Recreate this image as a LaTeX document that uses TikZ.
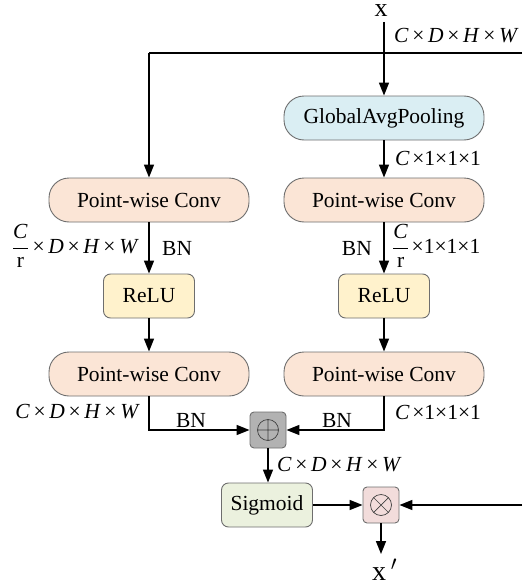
\documentclass[tikz,border=0pt]{standalone}
\usepackage{fontspec}
\setmainfont{Liberation Serif}
\usetikzlibrary{arrows.meta}
\newcommand\tms{\hspace{0.17em}×\hspace{0.17em}}
\newcommand\dhw{\textit{D}\tms\textit{H}\tms\textit{W}}
\newcommand\cdhw{\textit{C}\tms\dhw}
\newcommand\cone{\textit{C}\hspace{0.12em}×1×1×1}
\newcommand\crfrac{$\displaystyle\frac{\mbox{\textit{C}}}{\mbox{r}}$}
\definecolor{gapfill}{RGB}{218,238,243}
\definecolor{pwcfill}{RGB}{251,229,214}
\definecolor{relufill}{RGB}{255,242,204}
\definecolor{sigfill}{RGB}{235,241,222}
\definecolor{addfill}{RGB}{178,178,178}
\definecolor{mulfill}{RGB}{242,220,219}
\definecolor{edgegray}{RGB}{110,110,110}
\begin{document}
\begin{tikzpicture}[x=1pt,y=-1pt,
  every node/.style={font=\fontsize{21.5}{25}\selectfont},
  pill/.style={draw=edgegray,line width=0.9pt,rounded corners=20pt,minimum width=200pt,minimum height=44pt,inner sep=0pt},
  sbox/.style={draw=edgegray,line width=0.9pt,rounded corners=7pt,minimum width=91pt,minimum height=44pt,inner sep=0pt},
  opbox/.style={draw=edgegray,line width=0.9pt,rounded corners=4pt,minimum size=36pt,inner sep=0pt},
  lbl/.style={inner sep=0pt},
  biglbl/.style={inner sep=0pt,font=\fontsize{26}{30}\selectfont},
  conn/.style={line width=1.6pt,-{Triangle[length=13pt,width=10pt]}},
  plain/.style={line width=1.6pt}]
\useasboundingbox (0,0) rectangle (522,586);
% nodes
\node[biglbl,anchor=base] (x) at (381,17) {x};
\node[pill,fill=gapfill] (gap) at (384,118) {GlobalAvgPooling};
\node[pill,fill=pwcfill] (pl1) at (149,200) {Point-wise Conv};
\node[pill,fill=pwcfill] (pr1) at (384,200) {Point-wise Conv};
\node[sbox,fill=relufill] (rl) at (149,296) {ReLU};
\node[sbox,fill=relufill] (rr) at (384,296) {ReLU};
\node[pill,fill=pwcfill] (pl2) at (149,374) {Point-wise Conv};
\node[pill,fill=pwcfill] (pr2) at (384,374) {Point-wise Conv};
\node[opbox,fill=addfill] (add) at (268,430) {};
\node[sbox,fill=sigfill] (sig) at (267,505) {Sigmoid};
\node[opbox,fill=mulfill] (mul) at (381,505) {};
\node[biglbl,anchor=base west,font=\fontsize{28}{32}\selectfont] (xo) at (372,580) {x\,$'$};
% symbols
\draw[line width=0.7pt,draw=black!75] (add.center) circle (10.5pt) (add.center) ++(-10.5,0) -- ++(21,0) (add.center) ++(0,-10.5) -- ++(0,21);
\draw[line width=0.7pt,draw=black!75] (mul.center) circle (10.5pt) (mul.center) ++(-7.42,-7.42) -- ++(14.85,14.85) (mul.center) ++(-7.42,7.42) -- ++(14.85,-14.85);
% coordinates
\coordinate (xs) at (384,22);
\coordinate (topR) at (522,53);
\coordinate (topL) at (149,53);
\coordinate (botR) at (522,505);
\coordinate (jl) at (149,430);
\coordinate (jr) at (384,430);
\coordinate (xe) at (381,554);
% connectors
\draw[conn] (xs) -- (gap.north);
\draw[plain] (topR) -- (topL);
\draw[conn] (topL) -- (pl1.north);
\draw[conn] (gap.south) -- (pr1.north);
\draw[conn] (pl1.south) -- (rl.north);
\draw[conn] (pr1.south) -- (rr.north);
\draw[conn] (rl.south) -- (pl2.north);
\draw[conn] (rr.south) -- (pr2.north);
\draw[conn] (pl2.south) -- (jl) -- (add.west);
\draw[conn] (pr2.south) -- (jr) -- (add.east);
\draw[conn] (add.south) -- (sig.north -| add.south);
\draw[conn] (sig.east) -- (mul.west);
\draw[conn] (botR) -- (mul.east);
\draw[conn] (mul.south) -- (xe);
% labels
\node[lbl,anchor=east] at (139,246) {\crfrac\tms\dhw};
\node[lbl,anchor=west] at (394,36) {\cdhw};
\node[lbl,anchor=west] at (395,158) {\cone};
\node[lbl,anchor=west] at (162,248) {BN};
\node[lbl,anchor=east] at (372,248) {BN};
\node[lbl,anchor=west] at (392,246) {\crfrac\hspace{0.12em}×1×1×1};
\node[lbl,anchor=east] at (140,412) {\cdhw};
\node[lbl] at (191,420) {BN};
\node[lbl] at (337,420) {BN};
\node[lbl,anchor=west] at (395,412) {\cone};
\node[lbl,anchor=west] at (277,465) {\cdhw};
\end{tikzpicture}
\end{document}
